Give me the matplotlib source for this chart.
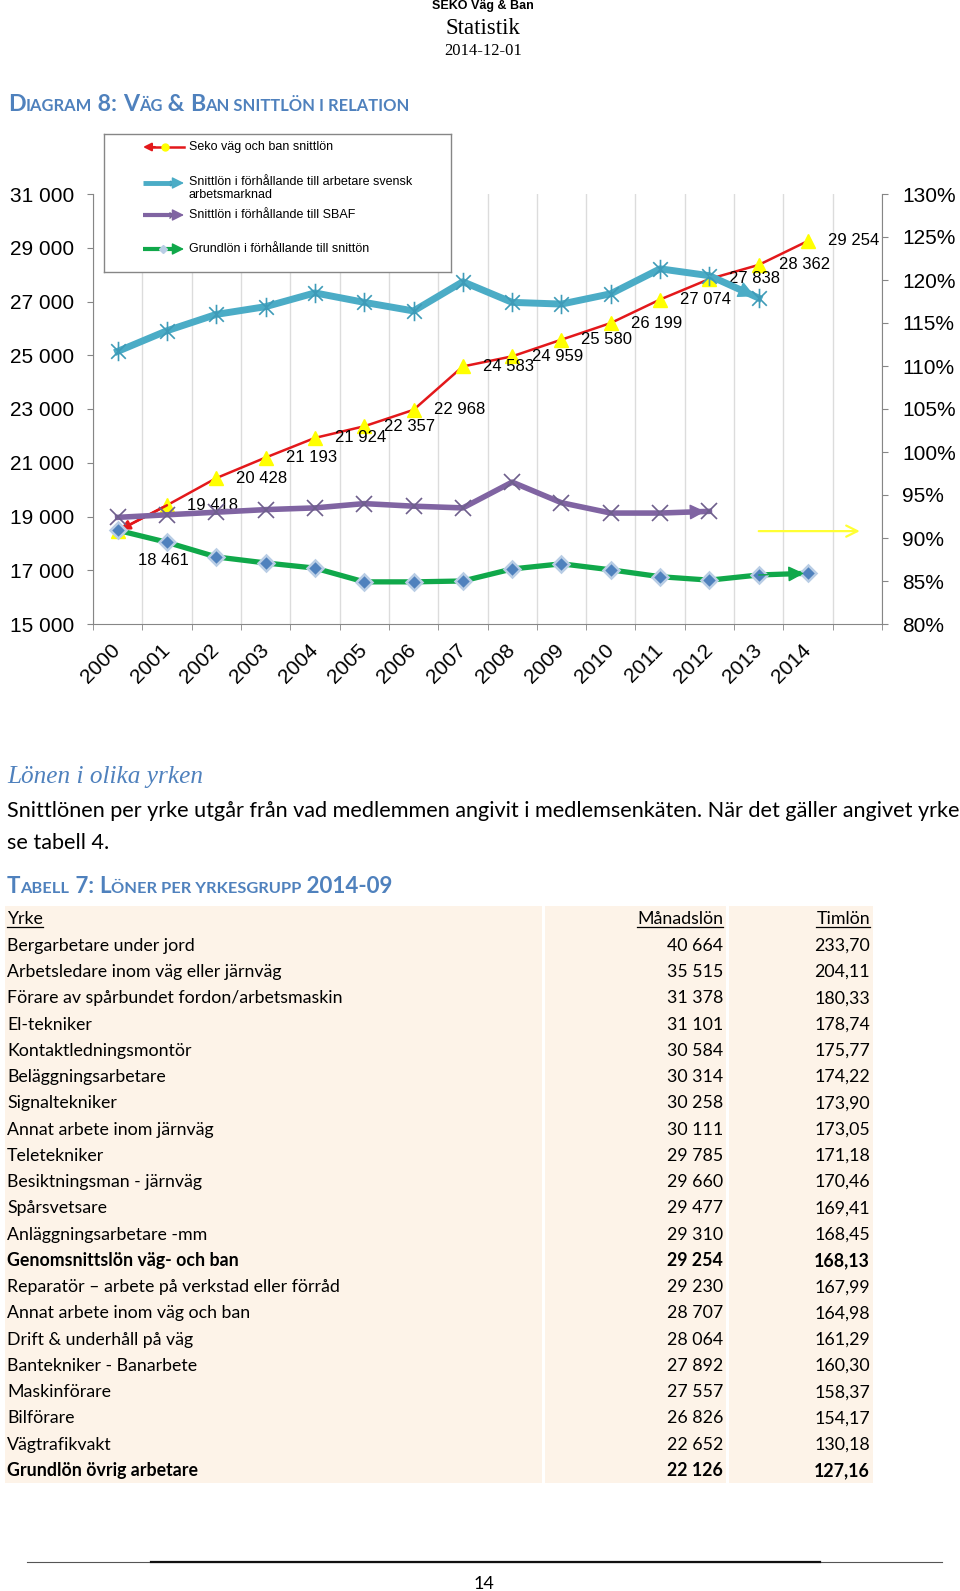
import matplotlib
matplotlib.use('Agg')
import matplotlib.pyplot as plt
from matplotlib.lines import Line2D
from matplotlib.patches import Rectangle
from matplotlib.path import Path
from matplotlib.ticker import FixedLocator, FuncFormatter

plt.rcParams['font.family'] = ['Liberation Sans', 'DejaVu Sans']

# ---------------- data ----------------
years = ['2000', '2001', '2002', '2003', '2004', '2005', '2006', '2007',
         '2008', '2009', '2010', '2011', '2012', '2013', '2014']
seko_snittlon = [18461, 19418, 20428, 21193, 21924, 22357, 22968, 24583,
                 24959, 25580, 26199, 27074, 27838, 28362, 29254]
rel_svensk_pct = [111.7, 114.1, 116.0, 116.9, 118.5, 117.4, 116.4, 119.8,
                  117.4, 117.2, 118.4, 121.3, 120.5, 117.9]
rel_sbaf_pct = [92.4, 92.7, 93.0, 93.3, 93.5, 94.0, 93.7, 93.5,
                96.5, 94.1, 92.9, 92.9, 93.1]
grund_rel_pct = [90.9, 89.5, 87.8, 87.1, 86.5, 84.9, 84.9, 85.0,
                 86.4, 87.0, 86.3, 85.5, 85.1, 85.7, 85.9]
left_ticks = [15000, 17000, 19000, 21000, 23000, 25000, 27000, 29000, 31000]
right_ticks = [80, 85, 90, 95, 100, 105, 110, 115, 120, 125, 130]
legend_labels = ['Seko väg och ban snittlön',
                 'Snittlön i förhållande till arbetare svensk\narbetsmarknad',
                 'Snittlön i förhållande till SBAF',
                 'Grundlön i förhållande till snittön']

table_header = ['Yrke', 'Månadslön', 'Timlön']
occupations = ['Bergarbetare under jord', 'Arbetsledare inom väg eller järnväg',
               'Förare av spårbundet fordon/arbetsmaskin', 'El-tekniker',
               'Kontaktledningsmontör', 'Beläggningsarbetare', 'Signaltekniker',
               'Annat arbete inom järnväg', 'Teletekniker', 'Besiktningsman - järnväg',
               'Spårsvetsare', 'Anläggningsarbetare -mm', 'Genomsnittslön väg- och ban',
               'Reparatör – arbete på verkstad eller förråd', 'Annat arbete inom väg och ban',
               'Drift & underhåll på väg', 'Bantekniker - Banarbete', 'Maskinförare',
               'Bilförare', 'Vägtrafikvakt', 'Grundlön övrig arbetare']
monthly = [40664, 35515, 31378, 31101, 30584, 30314, 30258, 30111, 29785, 29660,
           29477, 29310, 29254, 29230, 28707, 28064, 27892, 27557, 26826, 22652, 22126]
hourly = [233.70, 204.11, 180.33, 178.74, 175.77, 174.22, 173.90, 173.05, 171.18, 170.46,
          169.41, 168.45, 168.13, 167.99, 164.98, 161.29, 160.30, 158.37, 154.17, 130.18, 127.16]
bold_rows = {'Genomsnittslön väg- och ban', 'Grundlön övrig arbetare'}

# ---------------- figure ----------------
W, H, DPI = 960, 1591, 100
fig = plt.figure(figsize=(W / DPI, H / DPI), dpi=DPI)
renderer = fig.canvas.get_renderer()


def fx(x):
    return x / W


def fy(y):
    return 1 - y / H


SANS = ['Liberation Sans', 'DejaVu Sans']
BODY = ['Lato', 'DejaVu Sans']
SERIF = ['Liberation Serif', 'DejaVu Serif']
HEAD_BLUE = '#4F81BD'


def measure(txt, size, **kw):
    t = fig.text(0, 0, txt + '|', fontsize=size, **kw)
    b = fig.text(0, 0, '|', fontsize=size, **kw)
    w = t.get_window_extent(renderer).width - b.get_window_extent(renderer).width
    t.remove()
    b.remove()
    return w


def fit_size(txt, target, base=12, **kw):
    return base * target / measure(txt, base, **kw)


def small_caps(x0, ybase, runs, big, small, target, **kw):
    total = sum(measure(t, big if b else small, **kw) for t, b in runs)
    k = target / total
    big, small = big * k, small * k
    x = x0
    for t, b in runs:
        s = big if b else small
        fig.text(fx(x), fy(ybase), t, fontsize=s, va='baseline', ha='left', **kw)
        x += measure(t, s, **kw)


# ---------------- header ----------------
fig.text(fx(483), fy(6), 'SEKO Väg & Ban', ha='center', va='center', fontsize=9,
         weight='bold', family=SANS)
fig.text(fx(483), fy(29), 'Statistik', ha='center', va='center', fontsize=16.5, family=SERIF)
fig.text(fx(483), fy(51), '2014-12-01', ha='center', va='center', fontsize=12, family=SERIF)

small_caps(8, 111, [('D', True), ('IAGRAM', False), (' 8: ', True), ('V', True), ('ÄG', False),
                    (' & ', True), ('B', True), ('AN SNITTLÖN I RELATION', False)],
           14, 10, 402, family=BODY, weight='bold', color=HEAD_BLUE)

# ---------------- chart ----------------
AX_L, AX_R, AX_T, AX_B = 93, 882, 194, 624
ax = fig.add_axes([fx(AX_L), fy(AX_B), (AX_R - AX_L) / W, (AX_B - AX_T) / H])
ax2 = ax.twinx()
xs = list(range(len(years)))
ax.set_xlim(-0.5, 15.5)
ax.set_ylim(left_ticks[0], left_ticks[-1])
ax2.set_ylim(right_ticks[0], right_ticks[-1])

GRAY = '#868686'
for s in ['top', 'right']:
    ax.spines[s].set_visible(False)
for s in ['top', 'left', 'bottom']:
    ax2.spines[s].set_visible(False)
ax.spines['left'].set_color(GRAY)
ax.spines['bottom'].set_color(GRAY)
ax2.spines['right'].set_color(GRAY)

ax.set_yticks(left_ticks)
ax.yaxis.set_major_formatter(FuncFormatter(lambda v, p: f'{int(v):,}'.replace(',', ' ')))
ax.tick_params(axis='y', direction='out', length=4.5, color=GRAY, labelsize=15, pad=9)
ax2.set_yticks(right_ticks)
ax2.yaxis.set_major_formatter(FuncFormatter(lambda v, p: f'{int(v)}%'))
ax2.tick_params(axis='y', direction='out', length=4.5, color=GRAY, labelsize=15, pad=10)

ax.set_xticks(xs, years, rotation=45, ha='right', va='center', rotation_mode='anchor')
ax.tick_params(axis='x', which='major', length=0, labelsize=15, pad=16.5)
ax.xaxis.set_minor_locator(FixedLocator([i - 0.5 for i in range(17)]))
ax.tick_params(axis='x', which='minor', direction='out', length=4.5, color=GRAY)
ax.grid(which='minor', axis='x', color='#dcdcdc', lw=1)
ax.set_axisbelow(True)

RED = '#E3181B'
CYAN = '#4BACC6'
CYAN_M = '#3E9BB8'
PURPLE = '#8064A2'
PURPLE_M = '#6E5F8C'
GREEN = '#10A84A'

star = Path([(0, -1), (0, 1), (-0.75, -0.75), (0.75, 0.75), (-0.75, 0.75), (0.75, -0.75)],
            [Path.MOVETO, Path.LINETO] * 3)

# red series (left axis)
ax.plot(xs, seko_snittlon, color=RED, lw=1.8, marker='^', ms=10, mfc='#FFFF00',
        mec='#FFFF00', zorder=3)
ax.annotate('', xy=(xs[0], seko_snittlon[0]), xytext=(xs[1], seko_snittlon[1]),
            arrowprops=dict(arrowstyle='-|>', color=RED, lw=1.8, mutation_scale=14,
                            shrinkA=0, shrinkB=2))
for i, (xi, v) in enumerate(zip(xs, seko_snittlon)):
    dy = -30 if i == 0 else 0   # first label was moved below the lines in the original
    ax.annotate(f'{v:,}'.replace(',', ' '), (xi, v), xytext=(20, dy),
                textcoords='offset pixels', ha='left', va='center', fontsize=12, zorder=4)


def end_arrow(axis, xv, yv, color, scale):
    axis.annotate('', xy=(xv[-1], yv[-1]), xytext=(xv[-2], yv[-2]),
                  arrowprops=dict(arrowstyle='-|>', color=color, lw=1, mutation_scale=scale,
                                  shrinkA=0, shrinkB=3))


xb = xs[:len(rel_svensk_pct)]
ax2.plot(xb, rel_svensk_pct, color=CYAN, lw=5, marker=star, ms=14, mec=CYAN_M, mew=1.2,
         solid_joinstyle='round', zorder=3)
end_arrow(ax2, xb, rel_svensk_pct, CYAN, 26)

xp = xs[:len(rel_sbaf_pct)]
ax2.plot(xp, rel_sbaf_pct, color=PURPLE, lw=4, marker='x', ms=11, mec=PURPLE_M, mew=1.2,
         solid_joinstyle='round', zorder=3)
end_arrow(ax2, xp, rel_sbaf_pct, PURPLE, 24)

xg = xs[:len(grund_rel_pct)]
ax2.plot(xg, grund_rel_pct, color=GREEN, lw=3.8, marker='D', ms=8, mfc='#4F81BD',
         mec='#B9CDE5', mew=1.8, solid_joinstyle='round', zorder=3)
end_arrow(ax2, xg, grund_rel_pct, GREEN, 24)

# yellow pointer arrow toward the right axis
ax2.annotate('', xy=(15.05, 90.8), xytext=(13.0, 90.8),
             arrowprops=dict(arrowstyle='->', color='#FFFF33', lw=1.6, mutation_scale=20,
                             shrinkA=0, shrinkB=0))

# ---------------- legend (manual) ----------------
LG_L, LG_R, LG_T, LG_B = 104, 451, 134, 272
lg = fig.add_axes([fx(LG_L), fy(LG_B), (LG_R - LG_L) / W, (LG_B - LG_T) / H])
lg.set_xlim(LG_L, LG_R)
lg.set_ylim(LG_B, LG_T)
lg.set_xticks([])
lg.set_yticks([])
for s in lg.spines.values():
    s.set_color(GRAY)
    s.set_linewidth(1)
rows_y = [147, 183, 215, 249]
hx0, hx1 = 143, 184
# red
lg.plot([hx0 + 6, hx1], [rows_y[0]] * 2, color=RED, lw=1.8)
lg.annotate('', xy=(hx0, rows_y[0]), xytext=(hx0 + 12, rows_y[0]),
            arrowprops=dict(arrowstyle='-|>', color=RED, lw=1.5, mutation_scale=12,
                            shrinkA=0, shrinkB=0))
lg.plot([165], [rows_y[0]], marker='o', ms=5, color='#FFFF00', mec='#FFFF00')
# cyan / purple / green
for yy, col, mk, mcol, msz, mkx, lw in [
        (rows_y[1], CYAN, star, CYAN_M, 5, 172, 3.5),
        (rows_y[2], PURPLE, 'x', PURPLE_M, 4, 172, 3),
        (rows_y[3], GREEN, 'D', '#B9CDE5', 4, 163, 3)]:
    lg.plot([hx0, hx1 - 8], [yy, yy], color=col, lw=lw, solid_capstyle='butt')
    lg.annotate('', xy=(hx1, yy), xytext=(hx1 - 14, yy),
                arrowprops=dict(arrowstyle='-|>', color=col, lw=1, mutation_scale=18,
                                shrinkA=0, shrinkB=0))
    lg.plot([mkx], [yy], marker=mk, ms=msz, color=mcol, mec=mcol)
lg.text(189, rows_y[0], legend_labels[0], va='center', ha='left', fontsize=9)
lg.text(189, rows_y[1] - 7, legend_labels[1], va='top', ha='left', fontsize=9,
        linespacing=1.15)
lg.text(189, rows_y[2], legend_labels[2], va='center', ha='left', fontsize=9)
lg.text(189, rows_y[3], legend_labels[3], va='center', ha='left', fontsize=9)

# ---------------- body text ----------------
s_h = fit_size('Lönen i olika yrken', 196, family=SERIF, style='italic')
fig.text(fx(7), fy(783), 'Lönen i olika yrken', family=SERIF, style='italic',
         fontsize=s_h, color=HEAD_BLUE, va='baseline')
para1 = 'Snittlönen per yrke utgår från vad medlemmen angivit i medlemsenkäten. När det gäller angivet yrke'
s_p = fit_size(para1, 950, family=BODY)
fig.text(fx(7), fy(817), para1, family=BODY, fontsize=s_p, va='baseline')
fig.text(fx(7), fy(849), 'se tabell 4.', family=BODY, fontsize=s_p, va='baseline')

small_caps(7, 893, [('T', True), ('ABELL', False), (' 7: ', True), ('L', True),
                    ('ÖNER PER YRKESGRUPP', False), (' 2014-09', True)],
           13, 9.5, 385, family=BODY, weight='bold', color=HEAD_BLUE)

# ---------------- table ----------------
ROW0, ROWH = 918.5, 26.26
n_rows = len(occupations) + 1
TB_T = ROW0 - 13
TB_B = ROW0 + ROWH * (n_rows - 1) + 13
BG = '#FDF3E8'
for c0, c1 in [(5, 542), (545, 726), (729, 873)]:
    fig.add_artist(Rectangle((fx(c0), fy(TB_B)), (c1 - c0) / W, (TB_B - TB_T) / H,
                             transform=fig.transFigure, facecolor=BG, edgecolor='none',
                             zorder=0))
s_t = fit_size('Bergarbetare under jord', 187, family=BODY)
COL1_L, COL2_R, COL3_R = 7, 723, 870


def row_text(i, a, b, c, weight='normal', underline=False):
    yb = ROW0 + ROWH * i + 6
    for txt, xx, ha in [(a, COL1_L, 'left'), (b, COL2_R, 'right'), (c, COL3_R, 'right')]:
        fig.text(fx(xx), fy(yb), txt, family=BODY, fontsize=s_t, weight=weight,
                 ha=ha, va='baseline')
        if underline:
            w = measure(txt, s_t, family=BODY, weight=weight)
            x0 = xx if ha == 'left' else xx - w
            fig.add_artist(Line2D([fx(x0), fx(x0 + w)], [fy(yb + 2.5)] * 2,
                                  transform=fig.transFigure, color='black', lw=0.9))


row_text(0, *table_header, underline=True)
for i, (occ, m, h) in enumerate(zip(occupations, monthly, hourly), start=1):
    row_text(i, occ, f'{m:,}'.replace(',', ' '), f'{h:.2f}'.replace('.', ','),
             weight='bold' if occ in bold_rows else 'normal')

# ---------------- footer ----------------
fig.add_artist(Line2D([fx(27), fx(942)], [fy(1562)] * 2, transform=fig.transFigure,
                      color='#555555', lw=0.8))
fig.add_artist(Line2D([fx(151), fx(820)], [fy(1562)] * 2, transform=fig.transFigure,
                      color='#111111', lw=1.6))
fig.text(fx(484), fy(1589), '14', family=BODY, fontsize=13, ha='center', va='baseline')

fig.savefig('out.png', dpi=DPI)
